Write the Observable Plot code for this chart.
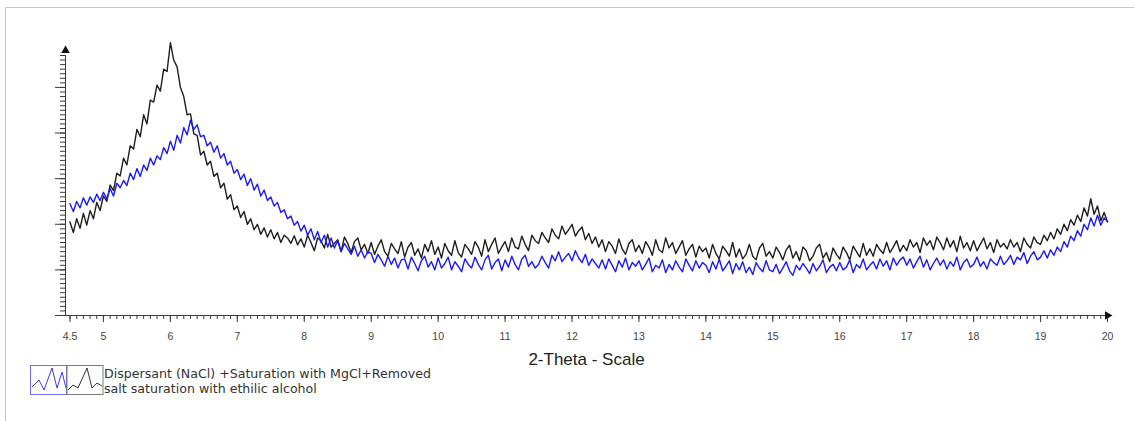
<!DOCTYPE html>
<html>
<head>
<meta charset="utf-8">
<script src="https://cdn.jsdelivr.net/npm/d3@7"></script>
<script src="https://cdn.jsdelivr.net/npm/@observablehq/plot@0.6"></script>
<style>
  html, body { margin: 0; padding: 0; background: #fff; }
  #wrap { position: relative; width: 1134px; height: 421px; overflow: hidden; }
  #frame { position: absolute; left: 5px; top: 7px; width: 1200px; height: 500px;
           border-top: 1px solid #c8c8c8; border-left: 1px solid #c8c8c8; }
  #legend { position: absolute; left: 30px; top: 365px; display: flex; align-items: flex-start; }
  #legend .txt { font-family: "DejaVu Sans", Verdana, sans-serif; font-size: 12.6px; line-height: 15px;
                 color: #333; margin-top: 1px; white-space: nowrap; }
  #chart { position: absolute; left: 0; top: 0; }
</style>
</head>
<body>
<div id="wrap">
  <div id="frame"></div>
  <div id="chart"></div>
  <div id="legend">
    <svg width="74" height="30" viewBox="0 0 74 30">
      <rect x="0.5" y="0.5" width="36" height="29" fill="none" stroke="#6f6ff0" stroke-width="1"/>
      <polyline points="2,22 9,15 14,25 22,3 27,23 32,7 36,23" fill="none" stroke="#3a3af0" stroke-width="1"/>
      <rect x="37" y="0.5" width="36" height="29" fill="none" stroke="#7a7a7a" stroke-width="1"/>
      <polyline points="38,25 43,20 48,23 57,3 62,23 67,18 72,21" fill="none" stroke="#333" stroke-width="1"/>
    </svg>
    <div class="txt">Dispersant (NaCl) +Saturation with MgCl+Removed<br>salt saturation with ethilic alcohol</div>
  </div>
</div>
<script>
// ---- data ----
const twoThetaStart = 4.5;
const twoThetaStep = 0.05;
const xAxisStart = 4.433;
const xMax = 20;
const yMax = 570;
const xMajorTicks = [4.5, 5, 6, 7, 8, 9, 10, 11, 12, 13, 14, 15, 16, 17, 18, 19, 20];
const xTickLabels = ["4.5", "5", "6", "7", "8", "9", "10", "11", "12", "13", "14", "15", "16", "17", "18", "19", "20"];
const axisTitle = "2-Theta - Scale";
const seriesNames = ["Removed salt (black)", "Saturated MgCl (blue)"];

const blackCounts = [
  205, 182, 212, 191, 224, 198, 230, 212, 248, 230,
  262, 250, 286, 274, 312, 306, 345, 330, 372, 365,
  408, 392, 440, 420, 472, 468, 505, 492, 540, 535,
  598, 560, 545, 500, 480, 440, 442, 398, 395, 352,
  360, 330, 338, 305, 312, 280, 290, 255, 265, 232,
  240, 215, 228, 200, 212, 188, 200, 178, 192, 172,
  188, 168, 182, 160, 176, 170, 158, 175, 155, 168,
  150, 176, 160, 142, 170, 164, 148, 178, 150, 158,
  166, 140, 172, 158, 138, 162, 170, 144, 156, 136,
  160, 134, 152, 166, 140, 130, 158, 146, 136, 162,
  128, 150, 160, 132, 146, 126, 156, 140, 164, 134,
  150, 126, 158, 142, 132, 164, 138, 128, 156, 146,
  134, 162, 150, 130, 166, 140, 156, 170, 136, 150,
  162, 140, 170, 150, 146, 174, 156, 142, 176, 164,
  158, 182, 170, 160, 190, 176, 168, 196, 178, 188,
  200, 174, 186, 194, 166, 180, 158, 172, 150, 166,
  140, 162, 152, 136, 168, 146, 134, 158, 166, 140,
  154, 136, 162, 150, 132, 166, 144, 138, 170, 148,
  160, 136, 150, 164, 132, 146, 156, 128, 152, 140,
  148, 126, 156, 136, 124, 152, 142, 130, 160, 128,
  146, 124, 134, 156, 130, 122, 148, 158, 130, 140,
  126, 150, 138, 122, 144, 154, 126, 140, 120, 150,
  142, 120, 130, 148, 156, 126, 138, 118, 148, 134,
  124, 150, 138, 122, 152, 140, 128, 158, 132, 146,
  130, 156, 144, 136, 160, 138, 150, 164, 140, 154,
  142, 166, 150, 160, 138, 170, 154, 164, 144, 172,
  160, 144, 170, 150, 164, 140, 174, 148, 160, 142,
  164, 142, 156, 170, 146, 160, 138, 166, 150, 158,
  146, 166, 150, 160, 140, 170, 156, 148, 172, 160,
  156, 176, 164, 182, 168, 190, 178, 200, 186, 210,
  198, 220, 206, 236, 218, 256, 222, 240, 208, 226,
  205
];

const blueCounts = [
  245, 228, 250, 236, 258, 242, 260, 248, 266, 252,
  270, 256, 278, 262, 290, 280, 296, 285, 312, 298,
  322, 305, 330, 318, 345, 330, 350, 342, 368, 355,
  382, 362, 395, 378, 412, 396, 428, 408, 418, 392,
  395, 372, 380, 358, 372, 345, 355, 330, 338, 312,
  320, 298, 310, 285, 300, 275, 288, 262, 275, 252,
  260, 240, 248, 226, 232, 212, 218, 198, 206, 185,
  198, 176, 190, 166, 184, 160, 176, 150, 170, 148,
  164, 140, 158, 146, 134, 152, 130, 144, 126, 140,
  136, 116, 134, 122, 108, 130, 112, 126, 104, 122,
  124, 102, 128, 114, 98, 120, 130, 106, 118, 100,
  126, 104, 114, 128, 100, 118, 108, 96, 124, 112,
  104, 128, 112, 100, 122, 132, 102, 116, 124, 98,
  122, 106, 130, 112, 100, 124, 132, 108, 118, 104,
  112, 130, 116, 104, 132, 120, 140, 118, 128, 136,
  120, 142, 126, 116, 134, 110, 124, 114, 104, 122,
  102, 124, 110, 96, 120, 106, 126, 100, 116, 108,
  120, 100, 112, 126, 96, 110, 104, 122, 94, 112,
  100, 120, 106, 96, 124, 110, 98, 120, 104, 116,
  110, 94, 118, 102, 124, 98, 108, 120, 92, 114,
  100, 118, 94, 106, 90, 116, 104, 96, 120, 100,
  96, 112, 92, 104, 118, 98, 88, 110, 100, 114,
  104, 92, 114, 98, 108, 122, 94, 106, 112, 98,
  116, 100, 106, 122, 94, 112, 104, 124, 100, 110,
  118, 102, 124, 108, 120, 100, 126, 110, 122, 128,
  110, 124, 104, 118, 130, 106, 122, 100, 114, 126,
  110, 122, 102, 118, 108, 128, 100, 116, 124, 106,
  112, 128, 108, 118, 102, 124, 116, 110, 130, 112,
  120, 132, 112, 128, 122, 138, 114, 130, 140, 122,
  128, 142, 126, 144, 132, 150, 140, 162, 150, 174,
  164, 186, 174, 200, 188, 214, 196, 220, 198, 214,
  206
];

// ---- build table ----
function toRows(values, series) {
  return values.map((v, i) => ({ x: +(twoThetaStart + i * twoThetaStep).toFixed(2), y: v, series }));
}
const blackRows = toRows(blackCounts, seriesNames[0]);
const blueRows = toRows(blueCounts, seriesNames[1]);

const xMinor = d3.range(0, Math.round((xMax - twoThetaStart) / 0.1) + 1).map(i => +(twoThetaStart + i * 0.1).toFixed(1));
const yMajor = d3.range(0, yMax + 1, 100);
const yMinor = d3.range(0, yMax + 1, 10);

const axisColor = "#3a3a3a";

const chart = Plot.plot({
  width: 1134,
  height: 421,
  marginTop: 55,
  marginBottom: 106,
  marginLeft: 65,
  marginRight: 27,
  style: { fontFamily: "'Liberation Sans', Arial, sans-serif", background: "transparent", color: axisColor },
  x: { domain: [xAxisStart, xMax], label: null },
  y: { domain: [0, yMax], label: null },
  marks: [
    Plot.axisX(xMinor, { tickSize: 4, tickFormat: () => "", label: null, stroke: axisColor }),
    Plot.axisX(xMajorTicks, { tickSize: 7, tickPadding: 10, fontSize: 10.5, label: null, stroke: axisColor, fill: "#444",
      tickFormat: d => xTickLabels[xMajorTicks.indexOf(d)] }),
    Plot.axisY(yMinor, { tickSize: 5, tickFormat: () => "", label: null, stroke: axisColor }),
    Plot.axisY(yMajor, { tickSize: 10, tickFormat: () => "", label: null, stroke: axisColor }),
    Plot.ruleY([0], { stroke: axisColor }),
    Plot.ruleX([xAxisStart], { stroke: axisColor }),
    Plot.line(blackRows, { x: "x", y: "y", stroke: "#1e1e1e", strokeWidth: 1.4, curve: "linear" }),
    Plot.line(blueRows, { x: "x", y: "y", stroke: "#1a1aff", strokeWidth: 1.4, curve: "linear" }),
    Plot.dot([{ x: xMax, y: 0 }], { x: "x", y: "y", symbol: "triangle", r: 3.2, fill: "#111", stroke: null, rotate: 90 }),
    Plot.dot([{ x: xAxisStart, y: yMax }], { x: "x", y: "y", symbol: "triangle", r: 3.2, fill: "#111", stroke: null, dy: -5 }),
    Plot.text([axisTitle], { frameAnchor: "bottom", dy: 49, fontSize: 17, fill: "#222" })
  ]
});
document.getElementById("chart").appendChild(chart);
</script>
</body>
</html>
